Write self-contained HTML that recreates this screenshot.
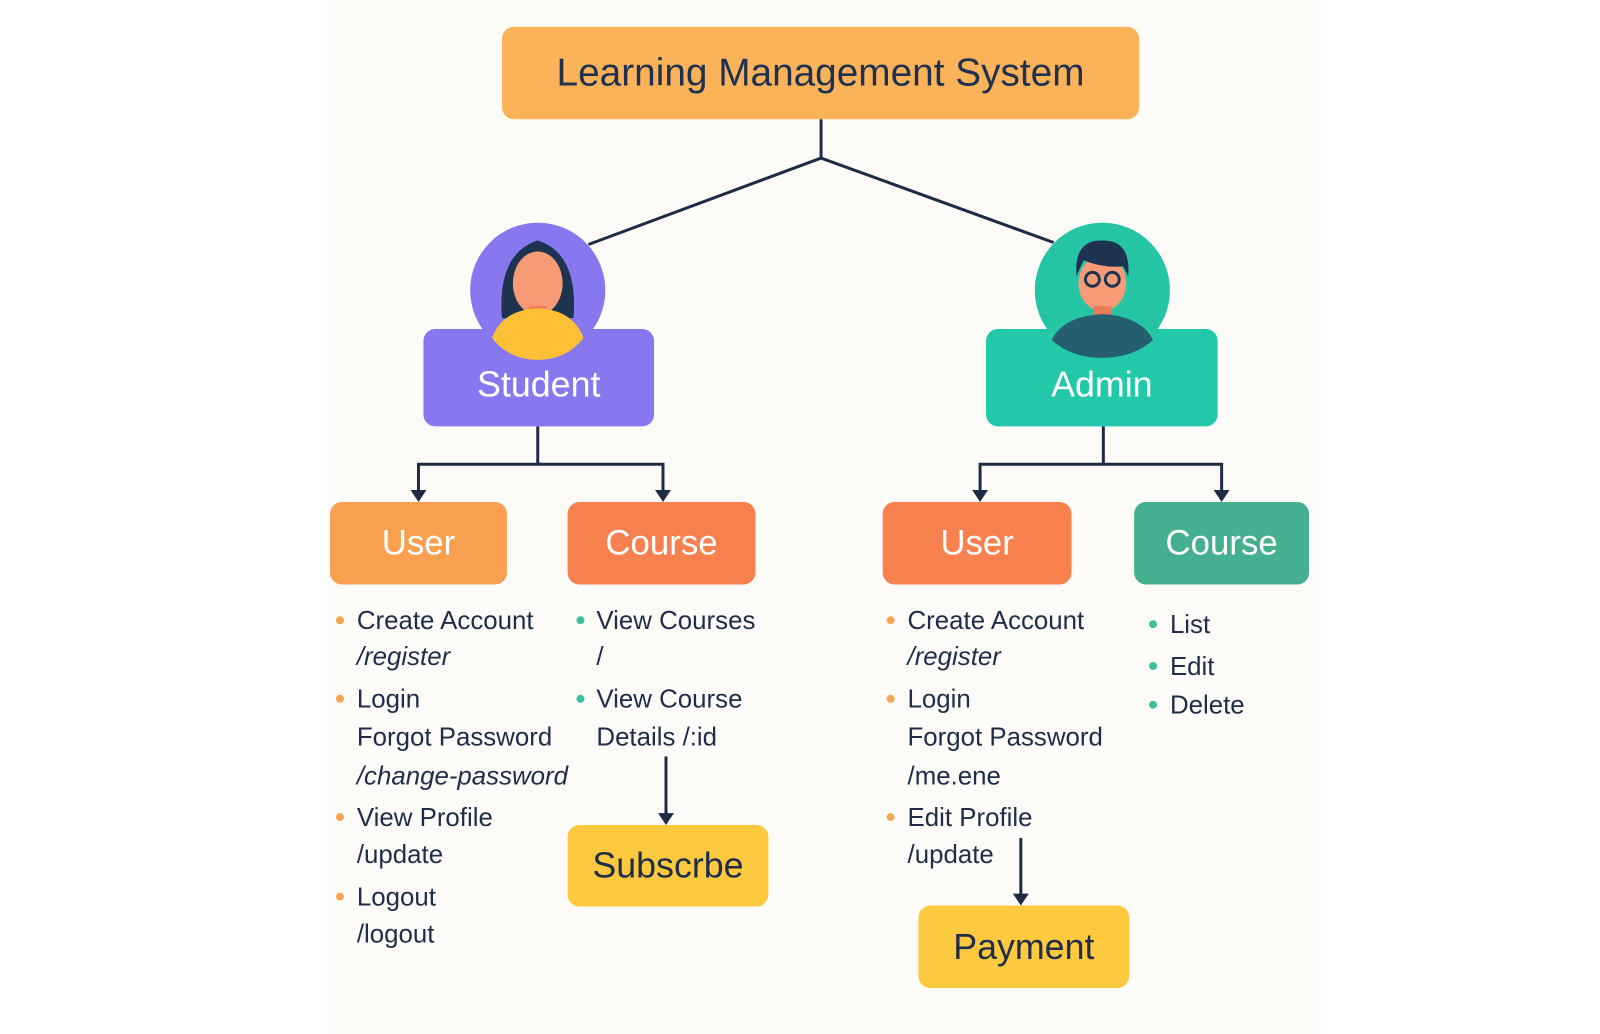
<!DOCTYPE html>
<html><head><meta charset="utf-8"><style>
body{margin:0;width:1600px;height:1024px;background:#fff;position:relative;overflow:hidden;font-family:"Liberation Sans",sans-serif;}
#w{position:absolute;left:0;top:0;width:1600px;height:1024px;transform:scale(0.994);transform-origin:0 0;}
.panel{position:absolute;left:330px;top:0;width:999px;height:1040px;background:#fdfbf7;}
.box{position:absolute;border-radius:12px;display:flex;align-items:center;justify-content:center;color:#fff;font-size:35px;}
.t{position:absolute;font-size:26px;color:#1f2d4a;white-space:nowrap;line-height:1;}
.i{font-style:italic;}
.b{position:absolute;width:8px;height:8px;border-radius:50%;}
.o{background:#f6a552}.g{background:#3cc0a0}
svg{position:absolute;left:0;top:0}
</style></head><body><div id="w">
<div class="panel"></div>
<svg width="1600" height="1024">
<g stroke="#1e2b45" stroke-width="3" fill="none">
<path d="M826 120 V159 L592 246 M826 159 L1060 244"/>
<path d="M541 429 V467 M421 502 V467 H667 V502"/>
<path d="M1110 429 V467 M986 502 V467 H1229 V502"/>
<path d="M670 761 V824"/>
<path d="M1027 843 V905"/>
</g>
<g fill="#1e2b45">
<path d="M413 493 L421 505 L429 493Z"/><path d="M659 493 L667 505 L675 493Z"/>
<path d="M978 493 L986 505 L994 493Z"/><path d="M1221 493 L1229 505 L1237 493Z"/>
<path d="M662 818 L670 830 L678 818Z"/><path d="M1019 899 L1027 911 L1035 899Z"/>
</g>
<circle cx="541" cy="292" r="68" fill="#8878f0"/>
<circle cx="1109" cy="292" r="68" fill="#25c4a4"/>
</svg>
<div class="box" style="left:505px;top:27px;width:641px;height:93px;background:#fbb35a;color:#1f3050;font-size:39px;">Learning Management System</div>
<div class="box" style="left:426px;top:331px;width:232px;height:98px;background:#8878f0;"></div>
<div class="box" style="left:992px;top:331px;width:233px;height:98px;background:#22c8a8;"></div>
<svg width="1600" height="1024">
<path d="M505 320 Q500 255 541 242 Q582 255 577 320 Z" fill="#1e3350"/>
<ellipse cx="541" cy="285" rx="25" ry="32" fill="#f79a76"/>
<rect x="532" y="308" width="18" height="16" fill="#ec7b5c"/>
<path d="M495 340 Q505 312 541 310 Q577 312 587 340 Q570 362 541 362 Q512 362 495 340Z" fill="#fcbf35"/>
<ellipse cx="1109" cy="285" rx="24" ry="28" fill="#f79a76"/>
<path d="M1083 278 Q1080 240 1110 242 Q1138 242 1135 278 L1130 268 Q1110 270 1090 262 Z" fill="#1e3350"/>
<circle cx="1099" cy="281" r="7" fill="none" stroke="#1e3350" stroke-width="3"/>
<circle cx="1119" cy="281" r="7" fill="none" stroke="#1e3350" stroke-width="3"/>
<rect x="1100" y="308" width="18" height="14" fill="#ec7b5c"/>
<path d="M1058 342 Q1070 318 1109 316 Q1148 318 1160 342 Q1140 360 1109 360 Q1078 360 1058 342Z" fill="#235f6e"/>
</svg>
<div class="t" style="left:426px;top:369px;width:232px;text-align:center;color:#fff;font-size:36px;">Student</div>
<div class="t" style="left:992px;top:369px;width:233px;text-align:center;color:#fff;font-size:36px;">Admin</div>
<div class="box" style="left:332px;top:505px;width:178px;height:83px;background:#f9a050;">User</div>
<div class="box" style="left:571px;top:505px;width:189px;height:83px;background:#f7804f;">Course</div>
<div class="box" style="left:888px;top:505px;width:190px;height:83px;background:#f7804f;">User</div>
<div class="box" style="left:1141px;top:505px;width:176px;height:83px;background:#44b08f;">Course</div>
<div class="box" style="left:571px;top:830px;width:202px;height:82px;background:#fcc93f;color:#1f2d4a;font-size:36px;">Subscrbe</div>
<div class="box" style="left:924px;top:911px;width:212px;height:83px;background:#fcc93f;color:#1f2d4a;font-size:36px;">Payment</div>

<div class="b o" style="left:338px;top:620px"></div>
<div class="t" style="left:359px;top:611px">Create Account</div>
<div class="t i" style="left:359px;top:647px">/register</div>
<div class="b o" style="left:338px;top:699px"></div>
<div class="t" style="left:359px;top:690px">Login</div>
<div class="t" style="left:359px;top:728px">Forgot Password</div>
<div class="t i" style="left:359px;top:767px">/change-password</div>
<div class="b o" style="left:338px;top:818px"></div>
<div class="t" style="left:359px;top:809px">View Profile</div>
<div class="t" style="left:359px;top:846px">/update</div>
<div class="b o" style="left:338px;top:898px"></div>
<div class="t" style="left:359px;top:889px">Logout</div>
<div class="t" style="left:359px;top:926px">/logout</div>

<div class="b g" style="left:580px;top:620px"></div>
<div class="t" style="left:600px;top:611px">View Courses</div>
<div class="t" style="left:600px;top:647px">/</div>
<div class="b g" style="left:580px;top:699px"></div>
<div class="t" style="left:600px;top:690px">View Course</div>
<div class="t" style="left:600px;top:728px">Details /:id</div>

<div class="b o" style="left:892px;top:620px"></div>
<div class="t" style="left:913px;top:611px">Create Account</div>
<div class="t i" style="left:913px;top:647px">/register</div>
<div class="b o" style="left:892px;top:699px"></div>
<div class="t" style="left:913px;top:690px">Login</div>
<div class="t" style="left:913px;top:728px">Forgot Password</div>
<div class="t" style="left:913px;top:767px">/me.ene</div>
<div class="b o" style="left:892px;top:818px"></div>
<div class="t" style="left:913px;top:809px">Edit Profile</div>
<div class="t" style="left:913px;top:846px">/update</div>

<div class="b g" style="left:1156px;top:624px"></div>
<div class="t" style="left:1177px;top:615px">List</div>
<div class="b g" style="left:1156px;top:666px"></div>
<div class="t" style="left:1177px;top:657px">Edit</div>
<div class="b g" style="left:1156px;top:705px"></div>
<div class="t" style="left:1177px;top:696px">Delete</div>
</div></body></html>
